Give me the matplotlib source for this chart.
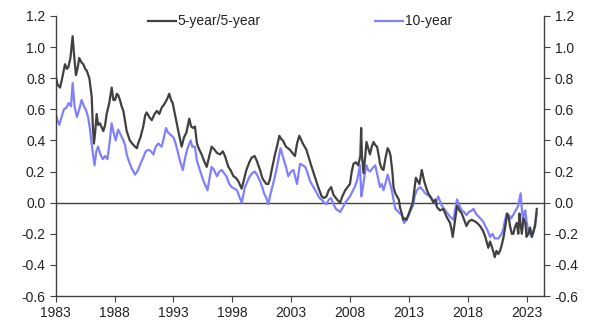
import matplotlib
matplotlib.use("Agg")
import matplotlib.pyplot as plt

plt.rcParams['font.family'] = ['Liberation Sans', 'DejaVu Sans']

five_x = [1983.0, 1983.15, 1983.37, 1983.55, 1983.79, 1983.95, 1984.07, 1984.25, 1984.44, 1984.55,
          1984.72, 1984.85, 1985.0, 1985.2, 1985.35, 1985.5, 1985.63, 1985.86, 1986.06, 1986.15,
          1986.25, 1986.35, 1986.48, 1986.6, 1986.76, 1987.05, 1987.2, 1987.33, 1987.55, 1987.76,
          1987.9, 1988.04, 1988.2, 1988.32, 1988.46, 1988.6, 1988.75, 1988.9, 1989.03, 1989.3,
          1989.5, 1989.74, 1989.9, 1990.0, 1990.2, 1990.44, 1990.6, 1990.73, 1990.95, 1991.16,
          1991.4, 1991.6, 1991.8, 1992.0, 1992.2, 1992.43, 1992.65, 1992.8, 1992.94, 1993.1,
          1993.28, 1993.5, 1993.7, 1993.9, 1994.1, 1994.35, 1994.5, 1994.7, 1994.83, 1995.0,
          1995.2, 1995.4, 1995.6, 1995.83, 1996.05, 1996.25, 1996.5, 1996.7, 1996.96, 1997.2,
          1997.38, 1997.67, 1997.85, 1998.1, 1998.3, 1998.5, 1998.8, 1999.0, 1999.2, 1999.45,
          1999.65, 1999.9, 2000.08, 2000.36, 2000.55, 2000.7, 2000.9, 2001.06, 2001.2, 2001.35,
          2001.63, 2001.8, 2002.0, 2002.15, 2002.3, 2002.56, 2002.9, 2003.1, 2003.33, 2003.5,
          2003.7, 2004.0, 2004.3, 2004.5, 2004.66, 2005.0, 2005.3, 2005.6, 2005.8, 2006.0,
          2006.2, 2006.4, 2006.6, 2006.9, 2007.16, 2007.35, 2007.6, 2007.8, 2008.0, 2008.15,
          2008.3, 2008.5, 2008.7, 2008.88, 2008.95, 2009.02, 2009.15, 2009.3, 2009.4, 2009.55,
          2009.7, 2009.85, 2010.0, 2010.15, 2010.3, 2010.45, 2010.55, 2010.7, 2010.85, 2011.0,
          2011.2, 2011.35, 2011.45, 2011.6, 2011.7, 2011.85, 2012.0, 2012.15, 2012.25, 2012.4,
          2012.53, 2012.65, 2012.8, 2012.95, 2013.1, 2013.33, 2013.5, 2013.6, 2013.75, 2013.9,
          2014.1, 2014.3, 2014.5, 2014.65, 2014.9, 2015.1, 2015.25, 2015.4, 2015.65, 2015.93,
          2016.2, 2016.5, 2016.62, 2016.73, 2016.9, 2017.1, 2017.3, 2017.5, 2017.7, 2017.9,
          2018.1, 2018.35, 2018.6, 2018.8, 2019.05, 2019.3, 2019.5, 2019.75, 2019.9, 2020.04,
          2020.2, 2020.3, 2020.45, 2020.6, 2020.75, 2020.9, 2021.05, 2021.2, 2021.37, 2021.5,
          2021.6, 2021.75, 2021.88, 2022.0, 2022.17, 2022.3, 2022.4, 2022.5, 2022.6, 2022.75,
          2022.9, 2023.0, 2023.15, 2023.3, 2023.45, 2023.6, 2023.73, 2023.87]
five_y = [0.82, 0.76, 0.74, 0.80, 0.89, 0.86, 0.87, 0.93, 1.07, 0.96,
          0.82, 0.86, 0.93, 0.90, 0.89, 0.86, 0.85, 0.80, 0.68, 0.50,
          0.38, 0.45, 0.57, 0.50, 0.51, 0.46, 0.50, 0.57, 0.64, 0.74,
          0.66, 0.66, 0.70, 0.69, 0.66, 0.62, 0.59, 0.52, 0.46, 0.40,
          0.38, 0.36, 0.35, 0.38, 0.42, 0.49, 0.56, 0.58, 0.55, 0.53,
          0.57, 0.59, 0.57, 0.61, 0.63, 0.66, 0.70, 0.66, 0.64, 0.58,
          0.51, 0.43, 0.36, 0.42, 0.45, 0.54, 0.49, 0.48, 0.49, 0.38,
          0.34, 0.31, 0.27, 0.23, 0.30, 0.36, 0.34, 0.32, 0.31, 0.33,
          0.30, 0.23, 0.21, 0.17, 0.16, 0.14, 0.09, 0.15, 0.21, 0.26,
          0.29, 0.30, 0.27, 0.21, 0.16, 0.14, 0.12, 0.12, 0.15, 0.21,
          0.31, 0.36, 0.43, 0.41, 0.40, 0.36, 0.34, 0.32, 0.30, 0.38,
          0.43, 0.38, 0.34, 0.29, 0.25, 0.17, 0.10, 0.04, 0.03, 0.04,
          0.08, 0.10, 0.05, 0.02, 0.00, 0.04, 0.08, 0.10, 0.12, 0.20,
          0.25, 0.26, 0.24, 0.30, 0.48, 0.30, 0.19, 0.30, 0.39, 0.35,
          0.31, 0.36, 0.39, 0.37, 0.36, 0.30, 0.25, 0.22, 0.21, 0.28,
          0.35, 0.33, 0.30, 0.20, 0.10, 0.06, 0.04, 0.02, -0.03, -0.07,
          -0.11, -0.10, -0.11, -0.08, -0.05, 0.00, 0.10, 0.16, 0.14, 0.12,
          0.21, 0.14, 0.09, 0.06, 0.03, 0.00, 0.02, -0.03, -0.05, -0.04,
          -0.09, -0.13, -0.17, -0.22, -0.13, -0.02, -0.05, -0.07, -0.11, -0.15,
          -0.12, -0.11, -0.12, -0.13, -0.15, -0.18, -0.22, -0.29, -0.25, -0.28,
          -0.32, -0.35, -0.31, -0.33, -0.31, -0.27, -0.22, -0.15, -0.07, -0.10,
          -0.15, -0.20, -0.20, -0.16, -0.13, -0.20, -0.07, -0.14, -0.20, -0.10,
          -0.13, -0.22, -0.20, -0.16, -0.22, -0.18, -0.15, -0.04]

ten_x = [1983.0, 1983.15, 1983.3, 1983.5, 1983.7, 1983.9, 1984.1, 1984.3, 1984.44, 1984.6,
         1984.8, 1985.0, 1985.2, 1985.4, 1985.6, 1985.75, 1985.9, 1986.1, 1986.3, 1986.45,
         1986.6, 1986.8, 1987.0, 1987.2, 1987.4, 1987.6, 1987.75, 1987.95, 1988.1, 1988.3,
         1988.5, 1988.75, 1988.9, 1989.03, 1989.25, 1989.46, 1989.74, 1990.0, 1990.2, 1990.44,
         1990.65, 1990.87, 1991.1, 1991.3, 1991.5, 1991.72, 1992.0, 1992.2, 1992.37, 1992.55,
         1992.7, 1993.0, 1993.15, 1993.33, 1993.55, 1993.8, 1994.0, 1994.2, 1994.47, 1994.6,
         1994.83, 1995.0, 1995.2, 1995.55, 1995.9, 1996.1, 1996.25, 1996.45, 1996.7, 1996.9,
         1997.1, 1997.3, 1997.5, 1997.75, 1997.95, 1998.2, 1998.4, 1998.6, 1998.8, 1999.08,
         1999.3, 1999.5, 1999.7, 1999.9, 2000.1, 2000.35, 2000.55, 2000.7, 2000.9, 2001.06,
         2001.2, 2001.4, 2001.6, 2001.8, 2002.1, 2002.25, 2002.4, 2002.6, 2002.76, 2003.0,
         2003.2, 2003.5, 2003.76, 2004.0, 2004.2, 2004.4, 2004.6, 2004.9, 2005.2, 2005.4,
         2005.6, 2005.8, 2006.0, 2006.2, 2006.4, 2006.6, 2006.8, 2007.0, 2007.16, 2007.4,
         2007.6, 2007.8, 2008.0, 2008.2, 2008.4, 2008.6, 2008.85, 2008.97, 2009.1, 2009.25,
         2009.4, 2009.55, 2009.7, 2009.9, 2010.15, 2010.35, 2010.55, 2010.7, 2010.85, 2011.0,
         2011.2, 2011.35, 2011.55, 2011.7, 2011.85, 2012.0, 2012.25, 2012.4, 2012.6, 2012.8,
         2013.0, 2013.15, 2013.35, 2013.5, 2013.67, 2013.95, 2014.2, 2014.4, 2014.6, 2014.8,
         2015.0, 2015.25, 2015.5, 2015.65, 2015.8, 2016.0, 2016.2, 2016.5, 2016.8, 2016.95,
         2017.1, 2017.3, 2017.5, 2017.7, 2017.9, 2018.1, 2018.35, 2018.5, 2018.7, 2019.05,
         2019.3, 2019.5, 2019.7, 2019.9, 2020.1, 2020.3, 2020.6, 2020.8, 2021.0, 2021.15,
         2021.3, 2021.5, 2021.7, 2021.85, 2022.0, 2022.15, 2022.3, 2022.5, 2022.6, 2022.7,
         2022.8, 2022.9, 2023.0, 2023.15, 2023.3, 2023.45, 2023.6, 2023.73, 2023.87]
ten_y = [0.57, 0.53, 0.50, 0.55, 0.60, 0.61, 0.64, 0.62, 0.77, 0.62,
         0.55, 0.60, 0.66, 0.62, 0.59, 0.55, 0.48, 0.35, 0.24, 0.33,
         0.36, 0.31, 0.28, 0.30, 0.28, 0.40, 0.51, 0.44, 0.40, 0.47,
         0.44, 0.40, 0.37, 0.31, 0.26, 0.22, 0.18, 0.21, 0.25, 0.29,
         0.33, 0.34, 0.33, 0.31, 0.36, 0.38, 0.36, 0.42, 0.48, 0.45,
         0.44, 0.42, 0.39, 0.34, 0.27, 0.21, 0.29, 0.35, 0.40, 0.36,
         0.36, 0.27, 0.22, 0.14, 0.08, 0.17, 0.23, 0.21, 0.17, 0.20,
         0.21, 0.19, 0.17, 0.12, 0.10, 0.09, 0.08, 0.04, 0.00, 0.10,
         0.14, 0.17, 0.19, 0.20, 0.18, 0.14, 0.10, 0.06, 0.03, -0.01,
         0.04, 0.10, 0.16, 0.23, 0.35, 0.31, 0.27, 0.22, 0.17, 0.20,
         0.21, 0.12, 0.25, 0.24, 0.23, 0.19, 0.14, 0.10, 0.06, 0.03,
         0.02, 0.00, -0.01, 0.02, 0.03, -0.01, -0.04, -0.05, -0.06, -0.03,
         0.00, 0.02, 0.04, 0.07, 0.10, 0.14, 0.24, 0.04, 0.10, 0.18,
         0.24, 0.21, 0.20, 0.22, 0.24, 0.17, 0.10, 0.12, 0.08, 0.12,
         0.18, 0.14, 0.08, 0.02, -0.04, -0.05, -0.07, -0.08, -0.13, -0.11,
         -0.08, -0.05, -0.02, 0.04, 0.08, 0.10, 0.08, 0.06, 0.05, 0.04,
         0.02, -0.01, 0.04, 0.01, -0.02, -0.04, -0.06, -0.09, -0.11, -0.04,
         0.02, -0.02, -0.05, -0.06, -0.08, -0.06, -0.05, -0.04, -0.07, -0.10,
         -0.12, -0.15, -0.18, -0.22, -0.20, -0.23, -0.23, -0.21, -0.18, -0.12,
         -0.07, -0.08, -0.10, -0.08, -0.06, -0.04, -0.02, 0.06, -0.04, -0.11,
         -0.06, -0.05, -0.12, -0.18, -0.20, -0.22, -0.19, -0.13, -0.07]

series_labels = ["5-year/5-year", "10-year"]
year_ticks = [1983, 1988, 1993, 1998, 2003, 2008, 2013, 2018, 2023]
value_ticks = [-0.6, -0.4, -0.2, 0.0, 0.2, 0.4, 0.6, 0.8, 1.0, 1.2]

fig = plt.figure(figsize=(5.95, 3.25), dpi=100)
ax = fig.add_axes([0.0936, 0.0892, 0.8212, 0.8616])

ax.plot(five_x, five_y, color='#404040', lw=1.6, label=series_labels[0], zorder=3)
ax.plot(ten_x, ten_y, color='#8080ff', lw=1.6, label=series_labels[1], zorder=2)
ax.axhline(0, color='#404040', lw=1.0, zorder=1)

ax.set_xlim(1983, 2024.51)
ax.set_ylim(-0.6, 1.2)
ax.set_xticks(year_ticks)
ax.set_xticklabels([str(t) for t in year_ticks])
ax.set_yticks(value_ticks)
ax.set_yticklabels([f"{v:.1f}" for v in value_ticks])

ax.spines['top'].set_visible(False)
for s in ['left', 'right', 'bottom']:
    ax.spines[s].set_color('#404040')
    ax.spines[s].set_linewidth(1.0)
ax.tick_params(axis='both', direction='out', length=4, color='#404040',
               labelsize=10, labelcolor='#222222')
ax.tick_params(axis='y', left=True, right=True, labelleft=True, labelright=True)

leg = ax.legend(loc='upper center', bbox_to_anchor=(0.5, 1.05), ncol=2, frameon=False,
                fontsize=10, handlelength=2.0, handletextpad=0.15, columnspacing=8.2)
for t in leg.get_texts():
    t.set_color('#222222')

fig.savefig('out.png', dpi=100)
